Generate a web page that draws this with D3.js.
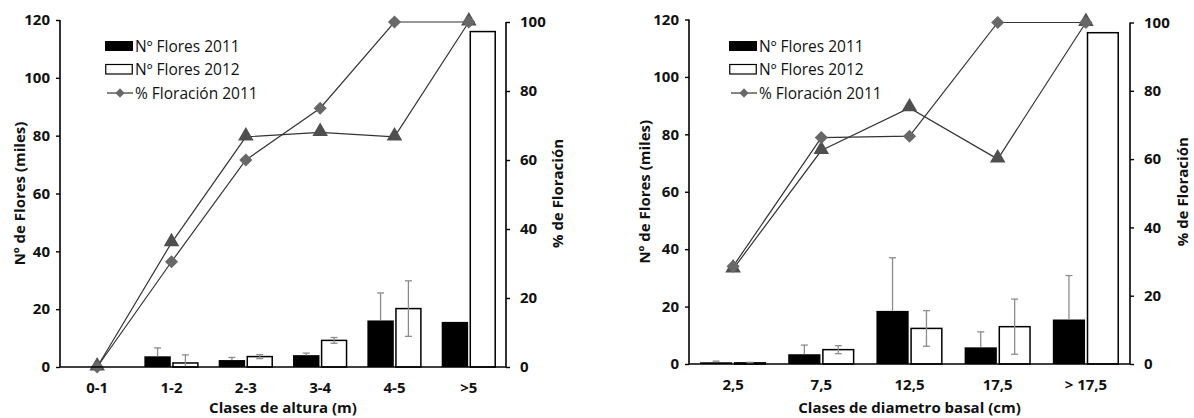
<!DOCTYPE html>
<html>
<head>
<meta charset="utf-8">
<script src="https://cdn.jsdelivr.net/npm/d3@7"></script>
<style>
  body { margin: 0; background: #fff; }
  text { font-family: "Open Sans", Lato, sans-serif; fill: #111; }
</style>
</head>
<body>
<div id="chart"></div>
<script>
// data -----------------------------------------------------------------------
const altClasses = ["0-1", "1-2", "2-3", "3-4", "4-5", ">5"];
const altFlores2011 = [0, 3.7, 2.4, 4.1, 16.1, 15.6];
const altErr2011 = [0, 2.9, 0.9, 0.7, 9.5, 0];
const altFlores2012 = [0, 1.4, 3.6, 9.2, 20.2, 116];
const altErr2012 = [0, 2.8, 0.7, 1.0, 9.6, 0];
const altPct2011 = [0, 30.5, 60, 75, 100, 100];
const altPct2012 = [0, 36, 66.7, 68, 66.7, 100];

const diamClasses = ["2,5", "7,5", "12,5", "17,5", "> 17,5"];
const diamFlores2011 = [0.6, 3.4, 18.5, 5.8, 15.5];
const diamErr2011 = [0.4, 3.2, 18.5, 5.4, 15.3];
const diamFlores2012 = [0.4, 5.0, 12.4, 13.0, 115.4];
const diamErr2012 = [0.2, 1.4, 6.2, 9.6, 0];
const diamPct2011 = [28.6, 66.3, 66.7, 100, 100];
const diamPct2012 = [27.8, 62.5, 75, 60, 100];

const leftTicks = [0, 20, 40, 60, 80, 100, 120];
const rightTicks = [0, 20, 40, 60, 80, 100];
const legendLabels = ["Nº Flores 2011", "Nº Flores 2012", "% Floración 2011"];

const W = 1194, H = 418;

const svg = d3.select('#chart')
    .append('svg')
    .attr('width', W)
    .attr('height', H);

function drawChart(cfg) {
    const g = svg.append('g');

    const x = d3.scaleBand()
        .domain(cfg.classes)
        .range([cfg.x0, cfg.x1])
        .paddingInner(cfg.pad)
        .paddingOuter(cfg.pad / 2);

    const xSub = d3.scaleBand()
        .domain(["2011", "2012"])
        .range([0, x.bandwidth()])
        .paddingInner(0.05);

    const yL = d3.scaleLinear().domain([0, 120]).range([cfg.y0, cfg.yTopL]);
    const yR = d3.scaleLinear().domain([0, 100]).range([cfg.y0, cfg.yTopR]);

    // bars
    const rows = cfg.classes.map((c, i) => ({
        c,
        v11: cfg.f11[i], e11: cfg.e11[i],
        v12: cfg.f12[i], e12: cfg.e12[i]
    }));

    g.selectAll('rect.b11')
        .data(rows.filter(d => d.v11 > 0))
        .join('rect')
        .attr('class', 'b11')
        .attr('x', d => x(d.c) + xSub("2011"))
        .attr('y', d => yL(d.v11))
        .attr('width', xSub.bandwidth())
        .attr('height', d => cfg.y0 - yL(d.v11))
        .attr('fill', '#000');

    g.selectAll('rect.b12')
        .data(rows.filter(d => d.v12 > 0))
        .join('rect')
        .attr('class', 'b12')
        .attr('x', d => x(d.c) + xSub("2012") + 0.75)
        .attr('y', d => yL(d.v12))
        .attr('width', xSub.bandwidth() - 1.5)
        .attr('height', d => cfg.y0 - yL(d.v12))
        .attr('fill', '#fff')
        .attr('stroke', '#000')
        .attr('stroke-width', 1.5);

    // error bars (2011 only above the bar, 2012 both ways)
    const errs = [];
    rows.forEach(d => {
        if (d.e11 > 0) errs.push({cx: x(d.c) + xSub("2011") + xSub.bandwidth() / 2, lo: d.v11, hi: d.v11 + d.e11});
        if (d.e12 > 0) errs.push({cx: x(d.c) + xSub("2012") + xSub.bandwidth() / 2, lo: Math.max(0, d.v12 - d.e12), hi: d.v12 + d.e12, capLo: d.v12 - d.e12 > 0});
    });
    const eg = g.append('g').attr('stroke', '#8c8c8c').attr('stroke-width', 1.3);
    errs.forEach(e => {
        eg.append('line').attr('x1', e.cx).attr('x2', e.cx).attr('y1', yL(e.lo)).attr('y2', yL(e.hi));
        eg.append('line').attr('x1', e.cx - 3.5).attr('x2', e.cx + 3.5).attr('y1', yL(e.hi)).attr('y2', yL(e.hi));
        if (e.capLo) eg.append('line').attr('x1', e.cx - 3.5).attr('x2', e.cx + 3.5).attr('y1', yL(e.lo)).attr('y2', yL(e.lo));
    });

    // lines
    const line = d3.line()
        .x((d, i) => x(cfg.classes[i]) + x.bandwidth() / 2)
        .y(d => yR(d));

    [cfg.p12, cfg.p11].forEach(s => {
        g.append('path')
            .datum(s)
            .attr('d', line)
            .attr('fill', 'none')
            .attr('stroke', '#333')
            .attr('stroke-width', 1.2);
    });

    const tri = d3.symbol().type(d3.symbolTriangle).size(105);
    const dia = d3.symbol().type(d3.symbolDiamond2).size(110);

    g.selectAll('path.tri')
        .data(cfg.p12)
        .join('path')
        .attr('class', 'tri')
        .attr('d', tri)
        .attr('transform', (d, i) => `translate(${x(cfg.classes[i]) + x.bandwidth() / 2},${yR(d) - 1})`)
        .attr('fill', '#4f4f4f');

    g.selectAll('path.dia')
        .data(cfg.p11)
        .join('path')
        .attr('class', 'dia')
        .attr('d', dia)
        .attr('transform', (d, i) => `translate(${x(cfg.classes[i]) + x.bandwidth() / 2},${yR(d)})`)
        .attr('fill', '#686868');

    // axes
    const axL = g.append('g')
        .attr('transform', `translate(${cfg.x0},0)`)
        .call(d3.axisLeft(yL).tickValues(leftTicks).tickSize(4).tickPadding(6));
    const axR = g.append('g')
        .attr('transform', `translate(${cfg.x1},0)`)
        .call(d3.axisRight(yR).tickValues(rightTicks).tickSize(4).tickPadding(10));
    [axL, axR].forEach(a => {
        a.select('.domain').remove();
        a.selectAll('.tick line').attr('stroke', '#000').attr('stroke-width', 1.4);
        a.selectAll('.tick text')
            .style('font-family', '"Open Sans", sans-serif')
            .style('font-size', '15px').style('font-weight', 'bold').attr('fill', '#111');
    });
    g.append('line').attr('x1', cfg.x0).attr('x2', cfg.x0).attr('y1', cfg.yTopL).attr('y2', cfg.y0)
        .attr('stroke', '#000').attr('stroke-width', 1.6);
    g.append('line').attr('x1', cfg.x1).attr('x2', cfg.x1).attr('y1', cfg.yTopR).attr('y2', cfg.y0)
        .attr('stroke', '#000').attr('stroke-width', 1.6);
    g.append('line').attr('x1', cfg.x0).attr('x2', cfg.x1).attr('y1', cfg.y0).attr('y2', cfg.y0)
        .attr('stroke', '#000').attr('stroke-width', 1.6);

    g.selectAll('text.xlab')
        .data(cfg.classes)
        .join('text')
        .attr('class', 'xlab')
        .attr('x', d => x(d) + x.bandwidth() / 2)
        .attr('y', cfg.xLabY)
        .attr('text-anchor', 'middle')
        .style('font-size', '15px')
        .style('font-weight', 'bold')
        .text(d => d);

    // axis titles
    g.append('text')
        .attr('x', (cfg.x0 + cfg.x1) / 2)
        .attr('y', 413)
        .attr('text-anchor', 'middle')
        .style('font-size', '15px')
        .style('font-weight', 'bold')
        .text(cfg.xTitle);

    const midY = (cfg.y0 + cfg.yTopL) / 2;
    g.append('text')
        .attr('transform', `translate(${cfg.yTitleLX},${midY}) rotate(-90)`)
        .attr('text-anchor', 'middle')
        .style('font-size', '15px')
        .style('font-weight', 'bold')
        .text("Nº de Flores (miles)");
    g.append('text')
        .attr('transform', `translate(${cfg.yTitleRX},${midY}) rotate(-90)`)
        .attr('text-anchor', 'middle')
        .style('font-size', '15px')
        .style('font-weight', 'bold')
        .text("% de Floración");

    // legend
    const lg = g.append('g').attr('transform', `translate(${cfg.legX},46)`);
    lg.append('rect').attr('x', 0).attr('y', -5).attr('width', 28).attr('height', 10).attr('fill', '#000');
    lg.append('rect').attr('x', 0.75).attr('y', 18.5).attr('width', 26.5).attr('height', 9.5)
        .attr('fill', '#fff').attr('stroke', '#000').attr('stroke-width', 1.2);
    lg.append('line').attr('x1', 2).attr('x2', 28).attr('y1', 47).attr('y2', 47)
        .attr('stroke', '#333').attr('stroke-width', 1.2);
    lg.append('path').attr('d', d3.symbol().type(d3.symbolDiamond2).size(55))
        .attr('transform', 'translate(15,47)').attr('fill', '#686868');
    legendLabels.forEach((t, i) => {
        lg.append('text')
            .attr('x', 30)
            .attr('y', i * 23.5 + 5.5)
            .style('font-size', '15.5px')
            .text(t);
    });
}

drawChart({
    classes: altClasses,
    f11: altFlores2011, e11: altErr2011,
    f12: altFlores2012, e12: altErr2012,
    p11: altPct2011, p12: altPct2012,
    x0: 60, x1: 506, y0: 367, yTopL: 20, yTopR: 22,
    pad: 0.27, xLabY: 393,
    xTitle: "Clases de altura (m)",
    yTitleLX: 25, yTitleRX: 563,
    legX: 105
});

drawChart({
    classes: diamClasses,
    f11: diamFlores2011, e11: diamErr2011,
    f12: diamFlores2012, e12: diamErr2012,
    p11: diamPct2011, p12: diamPct2012,
    x0: 689, x1: 1130, y0: 364, yTopL: 19.5, yTopR: 22.5,
    pad: 0.25, xLabY: 390,
    xTitle: "Clases de diametro basal (cm)",
    yTitleLX: 650, yTitleRX: 1188,
    legX: 729
});
</script>
</body>
</html>
